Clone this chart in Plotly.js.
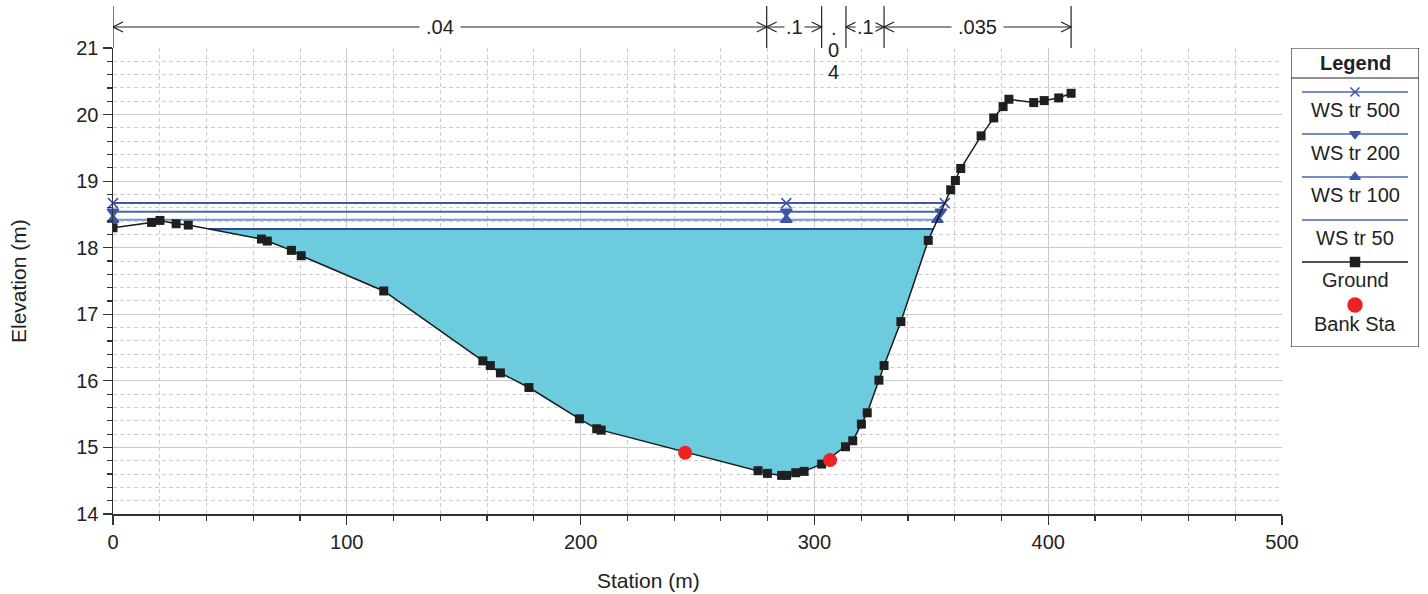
<!DOCTYPE html>
<html>
<head>
<meta charset="utf-8">
<script src="https://cdn.plot.ly/plotly-3.0.1.min.js"></script>
<style>html,body{margin:0;padding:0;background:#fff;}#chart{width:1428px;height:594px;}</style>
</head>
<body>
<div id="chart"></div>
<script>
// ---------- data ----------
const groundSta = [0, 16.5, 20.1, 27.0, 32.2, 63.5, 66.0, 76.3, 80.5, 115.8, 158.2, 161.4, 165.7, 177.9, 199.5, 206.9, 208.8, 275.9, 279.9, 286.0, 288.1, 292.0, 295.6, 303.1, 313.3, 316.4, 320.1, 322.6, 327.6, 329.8, 337.0, 348.7, 358.3, 360.3, 362.6, 371.3, 376.7, 380.7, 383.2, 393.8, 398.3, 404.5, 409.8];
const groundElev = [18.30, 18.38, 18.41, 18.36, 18.34, 18.13, 18.10, 17.96, 17.88, 17.35, 16.30, 16.23, 16.12, 15.90, 15.43, 15.28, 15.26, 14.65, 14.61, 14.58, 14.58, 14.62, 14.64, 14.75, 15.01, 15.10, 15.35, 15.52, 16.01, 16.23, 16.89, 18.11, 18.87, 19.01, 19.19, 19.68, 19.95, 20.12, 20.23, 20.18, 20.21, 20.25, 20.32];
const bankSta = [244.7, 306.7];
const bankElev = [14.92, 14.81];
const wsNames = ['WS tr 500', 'WS tr 200', 'WS tr 100', 'WS tr 50'];
const wsElev = [18.67, 18.54, 18.42, 18.28];
const wsMarkerSta = 288;
const nBounds = [0, 279.6, 303.1, 313.5, 329.8, 409.8];
const nValues = ['.04', '.1', '.04', '.1', '.035'];
const xTickVals = [0, 100, 200, 300, 400, 500];
const yTickVals = [14, 15, 16, 17, 18, 19, 20, 21];
const xTitle = 'Station (m)';
const yTitle = 'Elevation (m)';

// ---------- styles ----------
const FONT = 'Liberation Sans, Arial, sans-serif';
const wsColors = ['#3d58a8', '#4762b2', '#7a90cf', '#34489a'];
const wsSymbols = ['x-thin-open', 'triangle-down', 'triangle-up', null];
const markerBlue = '#3a56aa';
const fillColor = '#6ccbdc';
const PW = 1306, PH = 466, ML = 113, MT = 48;   // plot-area pixel geometry
const px2paperX = p => (p - ML) / PW;
const px2paperY = p => (MT + PH - p) / PH;

// water surface extents from ground geometry
function extent(ws) {
  let iMin = 0;
  for (let i = 1; i < groundElev.length; i++) if (groundElev[i] < groundElev[iMin]) iMin = i;
  let xl = groundSta[0], il = 0;
  for (let i = iMin; i > 0; i--) {
    if (groundElev[i - 1] > ws) {
      const t = (ws - groundElev[i]) / (groundElev[i - 1] - groundElev[i]);
      xl = groundSta[i] + t * (groundSta[i - 1] - groundSta[i]); il = i; break;
    }
  }
  let xr = groundSta[groundSta.length - 1], ir = groundSta.length - 1;
  for (let i = iMin; i < groundElev.length - 1; i++) {
    if (groundElev[i + 1] > ws) {
      const t = (ws - groundElev[i]) / (groundElev[i + 1] - groundElev[i]);
      xr = groundSta[i] + t * (groundSta[i + 1] - groundSta[i]); ir = i; break;
    }
  }
  return {xl, xr, il, ir};
}

const traces = [];
// fill for lowest water surface
{
  const ws = wsElev[3];
  const e = extent(ws);
  const px = [e.xl], py = [ws];
  for (let i = e.il; i <= e.ir; i++) { px.push(groundSta[i]); py.push(groundElev[i]); }
  px.push(e.xr); py.push(ws); px.push(e.xl); py.push(ws);
  traces.push({x: px, y: py, mode: 'lines', fill: 'toself', fillcolor: fillColor,
    line: {width: 0, color: fillColor}, hoverinfo: 'skip', showlegend: false});
}
// water surface lines
wsElev.forEach((ws, k) => {
  const e = extent(ws);
  const hasM = wsSymbols[k] !== null;
  const tr = {
    x: hasM ? [e.xl, wsMarkerSta, e.xr] : [e.xl, e.xr],
    y: hasM ? [ws, ws, ws] : [ws, ws],
    mode: hasM ? 'lines+markers' : 'lines',
    line: {color: wsColors[k], width: 2},
    name: wsNames[k], showlegend: false, cliponaxis: false
  };
  if (hasM) tr.marker = {symbol: wsSymbols[k], size: 10, color: markerBlue, line: {color: markerBlue, width: 1.5}};
  traces.push(tr);
});
// ground
traces.push({x: groundSta, y: groundElev, mode: 'lines+markers', name: 'Ground',
  line: {color: '#1a1a1a', width: 1.5}, marker: {symbol: 'square', size: 9, color: '#1f1f1f'}, showlegend: false});
// bank stations
traces.push({x: bankSta, y: bankElev, mode: 'markers', name: 'Bank Sta',
  marker: {symbol: 'circle', size: 14, color: '#ee2222'}, showlegend: false});

// ---------- custom legend (pixel axes inside legend box) ----------
const legItems = [
  {name: 'WS tr 500', lineY: 44, textY: 62, color: '#4a64b0', sym: 'x-thin-open', mcolor: markerBlue},
  {name: 'WS tr 200', lineY: 86, textY: 105, color: '#4a64b0', sym: 'triangle-down', mcolor: markerBlue},
  {name: 'WS tr 100', lineY: 129, textY: 147, color: '#4a64b0', sym: 'triangle-up', mcolor: markerBlue},
  {name: 'WS tr 50', lineY: 172, textY: 190, color: '#4a64b0', sym: null},
  {name: 'Ground', lineY: 214, textY: 232, color: '#1a1a1a', sym: 'square', mcolor: '#1f1f1f'},
  {name: 'Bank Sta', lineY: 257, textY: 276, color: null, sym: 'circle', mcolor: '#ee2222'}
];
const legW = 128, legH = 299;
legItems.forEach(it => {
  if (it.color) traces.push({x: [11, 64, 117], y: [it.lineY, it.lineY, it.lineY], xaxis: 'x2', yaxis: 'y2',
    mode: 'lines', line: {color: it.color, width: 1.5}, hoverinfo: 'skip', showlegend: false});
  if (it.sym) traces.push({x: [64], y: [it.lineY], xaxis: 'x2', yaxis: 'y2', mode: 'markers',
    marker: {symbol: it.sym, size: it.sym === 'circle' ? 14 : 9, color: it.mcolor, line: {color: it.mcolor, width: 1.5}},
    hoverinfo: 'skip', showlegend: false, cliponaxis: false});
});

// ---------- shapes & annotations ----------
const shapes = [];
const annotations = [];
const yLine = px2paperY(27), yTop = px2paperY(6);
nBounds.forEach(b => shapes.push({type: 'line', xref: 'x', yref: 'paper', x0: b, x1: b, y0: 1, y1: yTop,
  line: {color: '#222', width: 1.2}}));
function chevron(xa, dir) {
  const p = dir < 0 ? 'M10,-5 L0,0 L10,5' : 'M-10,-5 L0,0 L-10,5';
  shapes.push({type: 'path', xref: 'x', yref: 'paper', xsizemode: 'pixel', ysizemode: 'pixel',
    xanchor: xa, yanchor: yLine, path: p, line: {color: '#222', width: 1.2}});
}
for (let i = 0; i < nValues.length; i++) {
  const a = nBounds[i], b = nBounds[i + 1], mid = (a + b) / 2;
  const widthPx = (b - a) * 1169 / 500;
  if (widthPx > 30) {
    shapes.push({type: 'line', xref: 'x', yref: 'paper', x0: a, x1: b, y0: yLine, y1: yLine, line: {color: '#222', width: 1.2}});
    chevron(a, -1); chevron(b, 1);
    annotations.push({x: mid, y: yLine, xref: 'x', yref: 'paper', text: nValues[i], showarrow: false,
      bgcolor: '#ffffff', borderpad: widthPx > 60 ? 6 : 1, yanchor: 'middle', font: {family: FONT, size: 20, color: '#222'}});
  } else {
    nValues[i].split('').forEach((ch, j) => annotations.push({x: mid, y: px2paperY(28 + 22 * j), xref: 'x', yref: 'paper',
      text: ch, showarrow: false, yanchor: 'middle', font: {family: FONT, size: 20, color: '#222'}}));
  }
}
// legend box
shapes.push({type: 'rect', xref: 'x2', yref: 'y2', x0: 0, x1: legW, y0: 0, y1: legH, line: {color: '#222', width: 1.2}, fillcolor: 'rgba(0,0,0,0)'});
shapes.push({type: 'line', xref: 'x2', yref: 'y2', x0: 0, x1: legW, y0: 30, y1: 30, line: {color: '#222', width: 1.2}});
annotations.push({x: 64, y: 15, xref: 'x2', yref: 'y2', text: '<b>Legend</b>', showarrow: false,
  font: {family: FONT, size: 20, color: '#222'}});
legItems.forEach(it => annotations.push({x: 64, y: it.textY, xref: 'x2', yref: 'y2', text: it.name, showarrow: false,
  font: {family: FONT, size: 20, color: '#222'}}));
// axis titles
annotations.push({x: px2paperX(648), y: px2paperY(580), xref: 'paper', yref: 'paper', text: xTitle, showarrow: false,
  xanchor: 'center', yanchor: 'middle', font: {family: FONT, size: 21, color: '#222'}});
annotations.push({x: px2paperX(18), y: px2paperY(281), xref: 'paper', yref: 'paper', text: yTitle, showarrow: false,
  textangle: -90, xanchor: 'center', yanchor: 'middle', font: {family: FONT, size: 21, color: '#222'}});

const grid = '#cccccc';
const layout = {
  width: 1428, height: 594,
  margin: {l: ML, r: 1428 - ML - PW, t: MT, b: 594 - MT - PH},
  paper_bgcolor: '#ffffff', plot_bgcolor: '#ffffff',
  font: {family: FONT, size: 20, color: '#222'},
  showlegend: false,
  xaxis: {
    domain: [0, 1169 / PW], range: [0, 500], tickvals: xTickVals, ticks: 'outside', ticklen: 9, tickwidth: 1.2, tickcolor: '#333',
    showline: true, linecolor: '#333', linewidth: 1.5, showgrid: true, gridcolor: grid, gridwidth: 1, zeroline: false,
    minor: {dtick: 20, showgrid: true, gridcolor: grid, griddash: '4px,3px', gridwidth: 1, ticks: 'outside', ticklen: 5, tickcolor: '#333'},
    tickfont: {family: FONT, size: 20, color: '#222'}
  },
  yaxis: {
    range: [14, 21], tickvals: yTickVals, ticks: 'outside', ticklen: 9, tickwidth: 1.2, tickcolor: '#333',
    showline: true, linecolor: '#333', linewidth: 1.5, showgrid: true, gridcolor: grid, gridwidth: 1, zeroline: false,
    minor: {dtick: 0.2, showgrid: true, gridcolor: grid, griddash: '4px,3px', gridwidth: 1, ticks: 'outside', ticklen: 5, tickcolor: '#333'},
    tickfont: {family: FONT, size: 20, color: '#222'}
  },
  xaxis2: {domain: [1178 / PW, 1], range: [0, legW], visible: false, fixedrange: true, anchor: 'y2'},
  yaxis2: {domain: [px2paperY(347), 1], range: [legH, 0], visible: false, fixedrange: true, anchor: 'x2'},
  shapes: shapes,
  annotations: annotations
};

Plotly.newPlot('chart', traces, layout, {displayModeBar: false, staticPlot: true});
</script>
</body>
</html>
